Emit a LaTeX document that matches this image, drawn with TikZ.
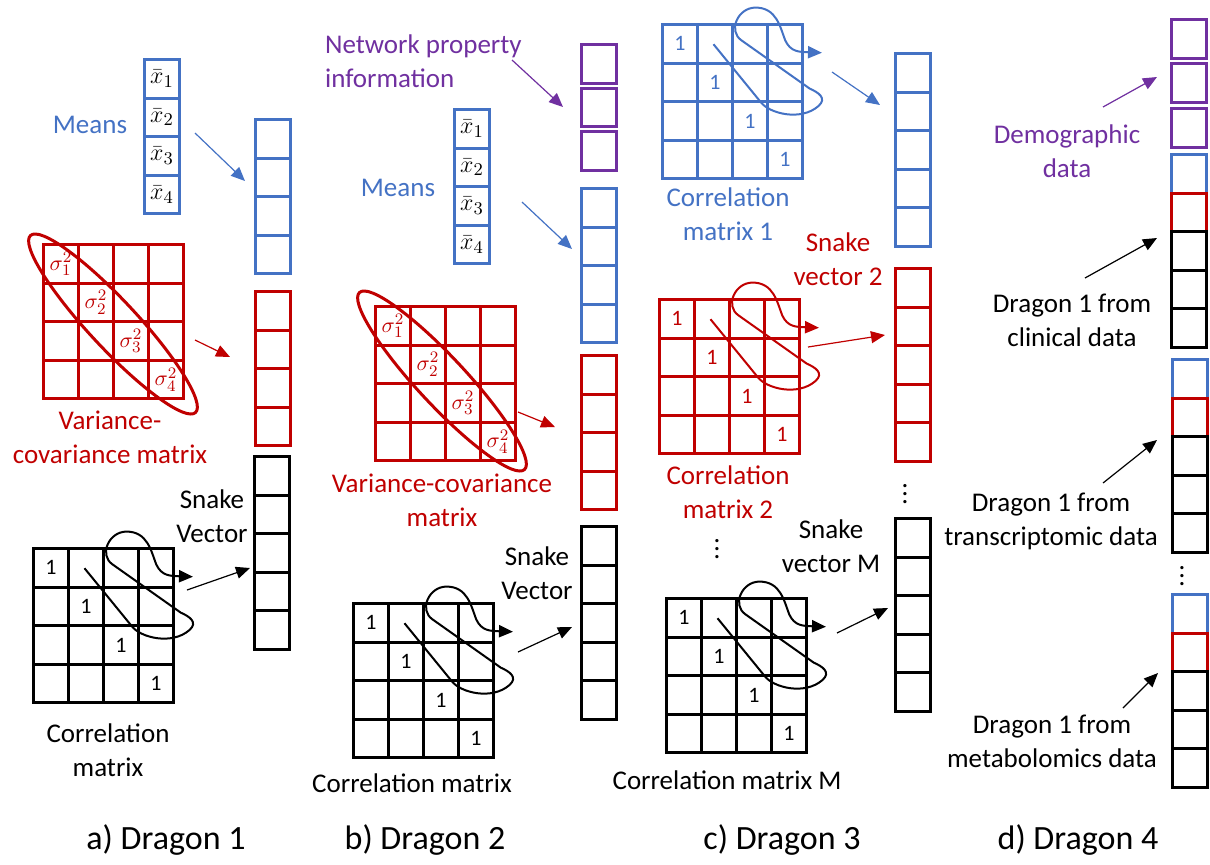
\documentclass[tikz,border=0pt]{standalone}
\usepackage{fontspec}
\setmainfont{Carlito}
\usetikzlibrary{matrix,arrows.meta,shapes.geometric}

\definecolor{dblue}{RGB}{68,114,196}
\definecolor{dred}{RGB}{192,0,0}
\definecolor{dpurple}{RGB}{112,48,160}

\tikzset{
    cell/.style={draw, line width=1.5pt, minimum width=17.5pt, minimum height=19.3pt, inner sep=0pt, outer sep=0pt, anchor=center, font=\fontsize{11}{13}\selectfont},
    mat/.style={matrix of nodes, nodes in empty cells, inner sep=0pt, outer sep=0pt, row sep=-1.5pt, column sep=-1.5pt, anchor=north west, nodes={cell, draw=#1, text=#1}},
    means/.style={nodes={text=black, font=\fontsize{13}{15}\selectfont}},
    lbl/.style={align=center, font=\fontsize{13.5}{17}\selectfont},
    captxt/.style={font=\fontsize{17}{20}\selectfont},
    arr/.style={-{Triangle[length=7pt,width=6pt]}, line width=0.6pt},
    snk/.style={-{Triangle[length=7pt,width=6pt]}, line width=1pt},
    ell/.style={ellipse, draw=dred, line width=1.5pt, minimum width=121pt, minimum height=24pt, inner sep=0pt, rotate=-47}
}

\newcommand{\snake}[2]{%
    \begin{scope}[shift={(#2)}, x=17.5pt, y=-19.3pt]
        \draw[snk, #1] (1.5,0.55) -- (2.85,2.05) .. controls (3.1,2.35) and (4.0,2.55) .. (4.5,2.15)
            .. controls (4.75,1.95) and (4.5,1.8) .. (4.25,1.7) -- (2.3,0.45)
            .. controls (1.9,0.2) and (2.2,-0.4) .. (2.7,-0.4)
            .. controls (3.3,-0.4) and (3.4,0.1) .. (3.55,0.45)
            .. controls (3.7,0.75) and (3.95,0.75) .. (4.6,0.77);
    \end{scope}}

\begin{document}
\begin{tikzpicture}[x=0.5pt, y=-0.5pt]
    \useasboundingbox (0,0) rectangle (1210,864);

    \matrix (aM) [mat=dblue, means] at (143,58) {$\bar{x}_1$\\ $\bar{x}_2$\\ $\bar{x}_3$\\ $\bar{x}_4$\\};
    \matrix (aB) [mat=dblue] at (254,118) {{}\\ {}\\ {}\\ {}\\};
    \matrix (aV) [mat=dred] at (42,243) {
        $\sigma_1^2$ & & & \\
        & $\sigma_2^2$ & & \\
        & & $\sigma_3^2$ & \\
        & & & $\sigma_4^2$ \\
    };
    \node[ell] (aE) at (113,324) {};
    \matrix (aR) [mat=dred] at (254,290) {{}\\ {}\\ {}\\ {}\\};
    \matrix (aS) [mat=black] at (253,455) {{}\\ {}\\ {}\\ {}\\ {}\\};
    \matrix (aC) [mat=black] at (32,547) {
        1 & & & \\
        & 1 & & \\
        & & 1 & \\
        & & & 1 \\
    };
    \snake{black}{aC.north west}

    \node[lbl, text=dblue] (aMl) at (90,125) {Means};
    \node[lbl, text=dred] (aVl) at (110,437) {Variance-\\covariance matrix};
    \node[lbl] (aSl) at (212,516) {Snake\\Vector};
    \node[lbl] (aCl) at (108,750) {Correlation\\matrix};
    \node[captxt] (aCap) at (166,840) {a) Dragon 1};

    \coordinate (aMt) at (195,133);
    \coordinate (aMh) at (245,181);
    \coordinate (aVt) at (195,340);
    \coordinate (aVh) at (230,357);
    \coordinate (aCt) at (187,590);
    \coordinate (aCh) at (250,568);
    \draw[arr, dblue] (aMt) -- (aMh);
    \draw[arr, dred] (aVt) -- (aVh);
    \draw[arr] (aCt) -- (aCh);

    \matrix (bP) [mat=dpurple] at (580,43) {{}\\[2.5pt] {}\\[2.5pt] {}\\};
    \matrix (bM) [mat=dblue, means] at (453,108) {$\bar{x}_1$\\ $\bar{x}_2$\\ $\bar{x}_3$\\ $\bar{x}_4$\\};
    \matrix (bB) [mat=dblue] at (580,187) {{}\\ {}\\ {}\\ {}\\};
    \matrix (bV) [mat=dred] at (374,305) {
        $\sigma_1^2$ & & & \\
        & $\sigma_2^2$ & & \\
        & & $\sigma_3^2$ & \\
        & & & $\sigma_4^2$ \\
    };
    \node[ell] (bE) at (442,381) {};
    \matrix (bR) [mat=dred] at (580,354) {{}\\ {}\\ {}\\ {}\\};
    \matrix (bS) [mat=black] at (580,525) {{}\\ {}\\ {}\\ {}\\ {}\\};
    \matrix (bC) [mat=black] at (352,602) {
        1 & & & \\
        & 1 & & \\
        & & 1 & \\
        & & & 1 \\
    };
    \snake{black}{bC.north west}

    \node[lbl, text=dpurple, anchor=west, align=left] (bNl) at (318,61) {Network property\\information};
    \node[lbl, text=dblue] (bMl) at (398,188) {Means};
    \node[lbl, text=dred] (bVl) at (442,500) {Variance-covariance\\matrix};
    \node[lbl] (bSl) at (537,573) {Snake\\Vector};
    \node[lbl] (bCl) at (412,783) {Correlation matrix};
    \node[captxt] (bCap) at (425,840) {b) Dragon 2};

    \coordinate (bNt) at (512,60);
    \coordinate (bNh) at (563,107);
    \coordinate (bMt) at (522,202);
    \coordinate (bMh) at (572,249);
    \coordinate (bVt) at (518,412);
    \coordinate (bVh) at (555,427);
    \coordinate (bCt) at (518,652);
    \coordinate (bCh) at (572,627);
    \draw[arr, dpurple] (bNt) -- (bNh);
    \draw[arr, dblue] (bMt) -- (bMh);
    \draw[arr, dred] (bVt) -- (bVh);
    \draw[arr] (bCt) -- (bCh);

    \matrix (c1) [mat=dblue] at (661,23) {
        1 & & & \\
        & 1 & & \\
        & & 1 & \\
        & & & 1 \\
    };
    \snake{dblue}{c1.north west}
    \matrix (c1v) [mat=dblue] at (894,52) {{}\\ {}\\ {}\\ {}\\ {}\\};
    \matrix (c2) [mat=dred] at (658,298) {
        1 & & & \\
        & 1 & & \\
        & & 1 & \\
        & & & 1 \\
    };
    \snake{dred}{c2.north west}
    \matrix (c2v) [mat=dred] at (894,267) {{}\\ {}\\ {}\\ {}\\ {}\\};
    \matrix (cM) [mat=black] at (665,597) {
        1 & & & \\
        & 1 & & \\
        & & 1 & \\
        & & & 1 \\
    };
    \snake{black}{cM.north west}
    \matrix (cMv) [mat=black] at (894,517) {{}\\ {}\\ {}\\ {}\\ {}\\};

    \node[lbl, text=dblue] (c1l) at (728,214) {Correlation\\matrix 1};
    \node[lbl, text=dred] (c2s) at (838,259) {Snake\\vector 2};
    \node[lbl, text=dred] (c2l) at (728,492) {Correlation\\matrix 2};
    \node[lbl] (cMs) at (831,546) {Snake\\vector M};
    \node[lbl] (cMl) at (727,780) {Correlation matrix M};
    \node[lbl] (cD1) at (905,488) {$\vdots$};
    \node[lbl] (cD2) at (717,543) {$\vdots$};
    \node[captxt] (cCap) at (782,840) {c) Dragon 3};

    \coordinate (c1t) at (832,72);
    \coordinate (c1h) at (880,105);
    \coordinate (c2t) at (808,347);
    \coordinate (c2h) at (885,335);
    \coordinate (cMt) at (837,633);
    \coordinate (cMh) at (888,608);
    \draw[arr, dblue] (c1t) -- (c1h);
    \draw[arr, dred] (c2t) -- (c2h);
    \draw[arr] (cMt) -- (cMh);

    \matrix (d1) [mat=black] at (1170,18) {
        |[draw=dpurple]| {}\\[2.7pt]
        |[draw=dpurple]| {}\\[3.2pt]
        |[draw=dpurple]| {}\\[3.7pt]
        |[draw=dblue]| {}\\
        |[draw=dred]| {}\\
        {}\\ {}\\ {}\\
    };
    \matrix (d2) [mat=black] at (1171,358) {
        |[draw=dblue]| {}\\
        |[draw=dred]| {}\\
        {}\\ {}\\ {}\\
    };
    \matrix (d3) [mat=black] at (1171,593) {
        |[draw=dblue]| {}\\
        |[draw=dred]| {}\\
        {}\\ {}\\ {}\\
    };

    \node[lbl, text=dpurple] (dPl) at (1067,151) {Demographic\\data};
    \node[lbl] (d1l) at (1072,320) {Dragon 1 from\\clinical data};
    \node[lbl] (d2l) at (1051,521) {Dragon 1 from\\transcriptomic data};
    \node[lbl] (dD) at (1182,570) {$\vdots$};
    \node[lbl] (d3l) at (1052,741) {Dragon 1 from\\metabolomics data};
    \node[captxt] (dCap) at (1078,840) {d) Dragon 4};

    \coordinate (dPt) at (1103,107);
    \coordinate (dPh) at (1157,77);
    \coordinate (d1t) at (1085,278);
    \coordinate (d1h) at (1157,238);
    \coordinate (d2t) at (1103,483);
    \coordinate (d2h) at (1157,440);
    \coordinate (d3t) at (1123,708);
    \coordinate (d3h) at (1158,673);
    \draw[arr, dpurple] (dPt) -- (dPh);
    \draw[arr] (d1t) -- (d1h);
    \draw[arr] (d2t) -- (d2h);
    \draw[arr] (d3t) -- (d3h);
\end{tikzpicture}
\end{document}
